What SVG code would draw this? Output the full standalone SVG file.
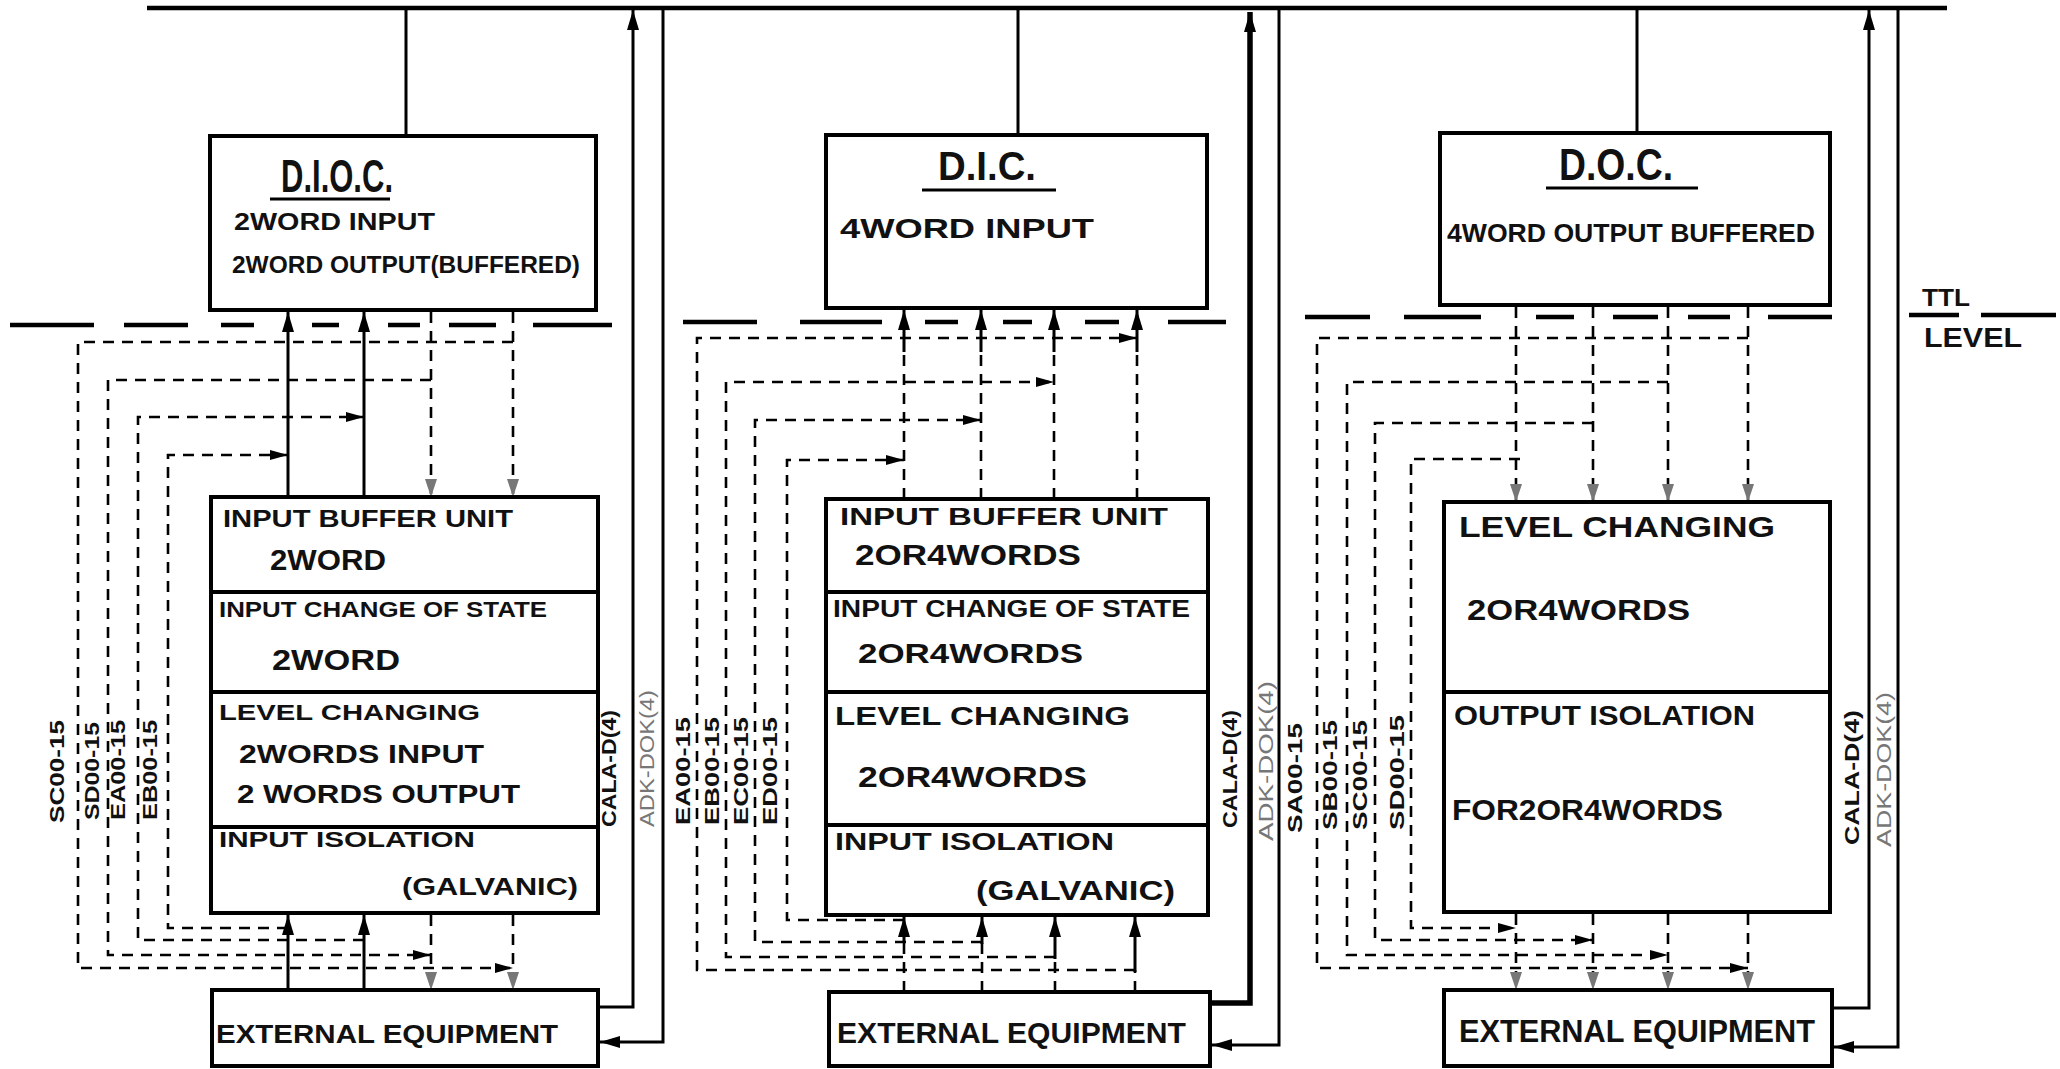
<svg xmlns="http://www.w3.org/2000/svg" width="2060" height="1069" viewBox="0 0 2060 1069">
<style>
.box{fill:none;stroke:#000;stroke-width:4}
.ln{fill:none;stroke:#000;stroke-width:3}
.thick{fill:none;stroke:#000;stroke-width:5.5}
.ds{fill:none;stroke:#000;stroke-width:2.6;stroke-dasharray:11 8}
.ttl{fill:none;stroke:#000;stroke-width:4.5}
.t{font-family:"Liberation Sans",Arial,sans-serif;fill:#111;font-weight:bold}
.lbl{font-size:20px}
.g{fill:#777;font-weight:normal}
</style>
<defs>
<marker id="ab" viewBox="0 0 20 12" refX="20" refY="6" markerWidth="20" markerHeight="12" orient="auto" markerUnits="userSpaceOnUse"><path d="M0,0 L20,6 L0,12 z" fill="#000"/></marker>
<marker id="ag" viewBox="0 0 18 12" refX="18" refY="6" markerWidth="18" markerHeight="12" orient="auto" markerUnits="userSpaceOnUse"><path d="M0,0 L18,6 L0,12 z" fill="#777"/></marker>
<marker id="ah" viewBox="0 0 18 12" refX="18" refY="6" markerWidth="18" markerHeight="12" orient="auto" markerUnits="userSpaceOnUse"><path d="M0,1 L18,6 L0,11 z" fill="#000"/></marker>
</defs>
<rect width="2060" height="1069" fill="#fff"/>

<g id="connectors">
  <!-- bus -->
  <path class="ttl" d="M147,8 H1947"/>
  <path class="ln" d="M406,8 V136 M1018,8 V135 M1637,8 V133"/>
  <!-- TTL level dashed separators -->
  <path class="ttl" d="M10,325 H94 M124,325 H188 M221,325 H254 M312,325 H339 M388,325 H420 M449,325 H496 M533,325 H612"/>
  <path class="ttl" d="M683,322 H757 M800,322 H882 M925,322 H958 M1003,322 H1032 M1085,322 H1119 M1168,322 H1226"/>
  <path class="ttl" d="M1305,317 H1370 M1404,317 H1481 M1536,317 H1574 M1613,317 H1658 M1688,317 H1730 M1768,317 H1832"/>
  <path class="ttl" d="M1909,315 H1959 M1981,315 H2056"/>

  <!-- DIOC column verticals -->
  <path class="ln" d="M288,497 V312" marker-end="url(#ab)"/>
  <path class="ln" d="M364,497 V312" marker-end="url(#ab)"/>
  <path class="ds" d="M431,312 V497" marker-end="url(#ag)"/>
  <path class="ds" d="M513,312 V497" marker-end="url(#ag)"/>
  <path class="ln" d="M288,990 V915" marker-end="url(#ab)"/>
  <path class="ln" d="M364,990 V915" marker-end="url(#ab)"/>
  <path class="ds" d="M431,915 V990" marker-end="url(#ag)"/>
  <path class="ds" d="M513,915 V990" marker-end="url(#ag)"/>
  <!-- DIOC L lines -->
  <path class="ds" d="M513,342 H78 V968 H513" marker-end="url(#ah)"/>
  <path class="ds" d="M431,380 H108 V955 H431" marker-end="url(#ah)"/>
  <path class="ds" d="M364,940 H138 V417 H364" marker-end="url(#ah)"/>
  <path class="ds" d="M288,928 H168 V455 H288" marker-end="url(#ah)"/>
  <!-- DIOC side lines -->
  <path class="ln" d="M598,1007 H633 V10" marker-end="url(#ab)"/>
  <path class="ln" stroke-width="2.5" d="M663,8 V1042 H600" marker-end="url(#ab)"/>

  <!-- DIC column verticals -->
  <path class="ds" d="M904,499 V350 M981,499 V350 M1054,499 V350 M1137,499 V350"/>
  <path class="ln" d="M904,352 V310" marker-end="url(#ab)"/>
  <path class="ln" d="M981,352 V310" marker-end="url(#ab)"/>
  <path class="ln" d="M1054,352 V310" marker-end="url(#ab)"/>
  <path class="ln" d="M1137,352 V310" marker-end="url(#ab)"/>
  <path class="ds" d="M904,992 V940 M982,992 V942 M1055,992 V957 M1135,992 V970"/>
  <path class="ln" d="M904,942 V917" marker-end="url(#ab)"/>
  <path class="ln" d="M982,944 V917" marker-end="url(#ab)"/>
  <path class="ln" d="M1055,959 V917" marker-end="url(#ab)"/>
  <path class="ln" d="M1135,972 V917" marker-end="url(#ab)"/>
  <!-- DIC L lines -->
  <path class="ds" d="M1135,970 H697 V338 H1137" marker-end="url(#ah)"/>
  <path class="ds" d="M1055,957 H726 V382 H1054" marker-end="url(#ah)"/>
  <path class="ds" d="M982,942 H755 V420 H981" marker-end="url(#ah)"/>
  <path class="ds" d="M904,920 H787 V460 H904" marker-end="url(#ah)"/>
  <!-- DIC side lines -->
  <path class="thick" d="M1210,1003 H1250 V12" marker-end="url(#ab)"/>
  <path class="ln" stroke-width="2.5" d="M1279,8 V1045 H1212" marker-end="url(#ab)"/>

  <!-- DOC column verticals -->
  <path class="ds" d="M1516,307 V502" marker-end="url(#ag)"/>
  <path class="ds" d="M1593,307 V502" marker-end="url(#ag)"/>
  <path class="ds" d="M1668,307 V502" marker-end="url(#ag)"/>
  <path class="ds" d="M1748,307 V502" marker-end="url(#ag)"/>
  <path class="ds" d="M1516,914 V990" marker-end="url(#ag)"/>
  <path class="ds" d="M1593,914 V990" marker-end="url(#ag)"/>
  <path class="ds" d="M1668,914 V990" marker-end="url(#ag)"/>
  <path class="ds" d="M1748,914 V990" marker-end="url(#ag)"/>
  <!-- DOC L lines -->
  <path class="ds" d="M1748,338 H1317 V968 H1748" marker-end="url(#ah)"/>
  <path class="ds" d="M1668,382 H1347 V955 H1668" marker-end="url(#ah)"/>
  <path class="ds" d="M1593,423 H1375 V940 H1593" marker-end="url(#ah)"/>
  <path class="ds" d="M1520,459 H1411 V928 H1516" marker-end="url(#ah)"/>
  <!-- DOC side lines -->
  <path class="ln" d="M1832,1008 H1869 V10" marker-end="url(#ab)"/>
  <path class="ln" stroke-width="2.5" d="M1898,8 V1047 H1834" marker-end="url(#ab)"/>

  <!-- signal labels -->
  <g class="t lbl">
    <text transform="translate(64,823) rotate(-90)" textLength="103" lengthAdjust="spacingAndGlyphs">SC00-15</text>
    <text transform="translate(99,820) rotate(-90)" textLength="98" lengthAdjust="spacingAndGlyphs">SD00-15</text>
    <text transform="translate(125,820) rotate(-90)" textLength="100" lengthAdjust="spacingAndGlyphs">EA00-15</text>
    <text transform="translate(157,820) rotate(-90)" textLength="100" lengthAdjust="spacingAndGlyphs">EB00-15</text>
    <text transform="translate(616,827) rotate(-90)" textLength="117" lengthAdjust="spacingAndGlyphs">CALA-D(4)</text>
    <text class="g" transform="translate(654,827) rotate(-90)" textLength="137" lengthAdjust="spacingAndGlyphs">ADK-DOK(4)</text>
    <text transform="translate(690,825) rotate(-90)" textLength="108" lengthAdjust="spacingAndGlyphs">EA00-15</text>
    <text transform="translate(719,825) rotate(-90)" textLength="108" lengthAdjust="spacingAndGlyphs">EB00-15</text>
    <text transform="translate(748,825) rotate(-90)" textLength="108" lengthAdjust="spacingAndGlyphs">EC00-15</text>
    <text transform="translate(777,825) rotate(-90)" textLength="108" lengthAdjust="spacingAndGlyphs">ED00-15</text>
    <text transform="translate(1237,828) rotate(-90)" textLength="118" lengthAdjust="spacingAndGlyphs">CALA-D(4)</text>
    <text class="g" transform="translate(1273,841) rotate(-90)" textLength="160" lengthAdjust="spacingAndGlyphs">ADK-DOK(4)</text>
    <text transform="translate(1302,833) rotate(-90)" textLength="110" lengthAdjust="spacingAndGlyphs">SA00-15</text>
    <text transform="translate(1337,830) rotate(-90)" textLength="110" lengthAdjust="spacingAndGlyphs">SB00-15</text>
    <text transform="translate(1367,830) rotate(-90)" textLength="110" lengthAdjust="spacingAndGlyphs">SC00-15</text>
    <text transform="translate(1404,830) rotate(-90)" textLength="115" lengthAdjust="spacingAndGlyphs">SD00-15</text>
    <text transform="translate(1859,845) rotate(-90)" textLength="135" lengthAdjust="spacingAndGlyphs">CALA-D(4)</text>
    <text class="g" transform="translate(1891,847) rotate(-90)" textLength="155" lengthAdjust="spacingAndGlyphs">ADK-DOK(4)</text>
  </g>
  <g id="ttl-label" class="t">
    <text x="1922" y="306" font-size="24" textLength="48" lengthAdjust="spacingAndGlyphs">TTL</text>
    <text x="1924" y="347" font-size="28" textLength="98" lengthAdjust="spacingAndGlyphs">LEVEL</text>
  </g>
</g>

<g id="dioc" class="t">
  <rect class="box" x="210" y="136" width="386" height="174"/>
  <text x="281" y="192" font-size="46" textLength="112" lengthAdjust="spacingAndGlyphs">D.I.O.C.</text>
  <path class="ln" d="M270,199 H390"/>
  <text x="234" y="230" font-size="24" textLength="201" lengthAdjust="spacingAndGlyphs">2WORD INPUT</text>
  <text x="232" y="273" font-size="24" textLength="348" lengthAdjust="spacingAndGlyphs">2WORD OUTPUT(BUFFERED)</text>
</g>
<g id="dioc-stack" class="t">
  <rect class="box" x="211" y="497" width="387" height="416"/>
  <path class="box" d="M211,592 H598 M211,692 H598 M211,827 H598"/>
  <text x="223" y="527" font-size="24" textLength="290" lengthAdjust="spacingAndGlyphs">INPUT BUFFER UNIT</text>
  <text x="270" y="570" font-size="30" textLength="116" lengthAdjust="spacingAndGlyphs">2WORD</text>
  <text x="219" y="617" font-size="22" textLength="328" lengthAdjust="spacingAndGlyphs">INPUT CHANGE OF STATE</text>
  <text x="272" y="670" font-size="30" textLength="128" lengthAdjust="spacingAndGlyphs">2WORD</text>
  <text x="219" y="720" font-size="22" textLength="261" lengthAdjust="spacingAndGlyphs">LEVEL CHANGING</text>
  <text x="239" y="763" font-size="25" textLength="245" lengthAdjust="spacingAndGlyphs">2WORDS INPUT</text>
  <text x="237" y="803" font-size="25" textLength="283" lengthAdjust="spacingAndGlyphs">2 WORDS OUTPUT</text>
  <text x="219" y="847" font-size="22" textLength="256" lengthAdjust="spacingAndGlyphs">INPUT ISOLATION</text>
  <text x="402" y="895" font-size="24" textLength="176" lengthAdjust="spacingAndGlyphs">(GALVANIC)</text>
</g>
<g id="dioc-ext" class="t">
  <rect class="box" x="212" y="990" width="386" height="76"/>
  <text x="216" y="1043" font-size="26" textLength="342" lengthAdjust="spacingAndGlyphs">EXTERNAL EQUIPMENT</text>
</g>

<g id="dic" class="t">
  <rect class="box" x="826" y="135" width="381" height="173"/>
  <text x="938" y="180" font-size="40" textLength="98" lengthAdjust="spacingAndGlyphs">D.I.C.</text>
  <path class="ln" d="M922,190 H1056"/>
  <text x="840" y="238" font-size="28" textLength="254" lengthAdjust="spacingAndGlyphs">4WORD INPUT</text>
</g>
<g id="dic-stack" class="t">
  <rect class="box" x="826" y="499" width="382" height="416"/>
  <path class="box" d="M826,592 H1208 M826,692 H1208 M826,825 H1208"/>
  <text x="840" y="525" font-size="24" textLength="328" lengthAdjust="spacingAndGlyphs">INPUT BUFFER UNIT</text>
  <text x="855" y="565" font-size="30" textLength="226" lengthAdjust="spacingAndGlyphs">2OR4WORDS</text>
  <text x="833" y="617" font-size="24" textLength="357" lengthAdjust="spacingAndGlyphs">INPUT CHANGE OF STATE</text>
  <text x="858" y="663" font-size="28" textLength="225" lengthAdjust="spacingAndGlyphs">2OR4WORDS</text>
  <text x="835" y="725" font-size="25" textLength="295" lengthAdjust="spacingAndGlyphs">LEVEL CHANGING</text>
  <text x="858" y="787" font-size="30" textLength="229" lengthAdjust="spacingAndGlyphs">2OR4WORDS</text>
  <text x="835" y="850" font-size="23" textLength="279" lengthAdjust="spacingAndGlyphs">INPUT ISOLATION</text>
  <text x="976" y="900" font-size="28" textLength="199" lengthAdjust="spacingAndGlyphs">(GALVANIC)</text>
</g>
<g id="dic-ext" class="t">
  <rect class="box" x="829" y="992" width="381" height="74"/>
  <text x="837" y="1043" font-size="30" textLength="349" lengthAdjust="spacingAndGlyphs">EXTERNAL EQUIPMENT</text>
</g>

<g id="doc" class="t">
  <rect class="box" x="1440" y="133" width="390" height="172"/>
  <text x="1559" y="180" font-size="44" textLength="114" lengthAdjust="spacingAndGlyphs">D.O.C.</text>
  <path class="ln" d="M1546,188 H1698"/>
  <text x="1447" y="242" font-size="26" textLength="368" lengthAdjust="spacingAndGlyphs">4WORD OUTPUT BUFFERED</text>
</g>
<g id="doc-stack" class="t">
  <rect class="box" x="1444" y="502" width="386" height="410"/>
  <path class="box" d="M1444,692 H1830"/>
  <text x="1459" y="537" font-size="30" textLength="316" lengthAdjust="spacingAndGlyphs">LEVEL CHANGING</text>
  <text x="1467" y="620" font-size="30" textLength="223" lengthAdjust="spacingAndGlyphs">2OR4WORDS</text>
  <text x="1454" y="725" font-size="27" textLength="301" lengthAdjust="spacingAndGlyphs">OUTPUT ISOLATION</text>
  <text x="1452" y="820" font-size="30" textLength="271" lengthAdjust="spacingAndGlyphs">FOR2OR4WORDS</text>
</g>
<g id="doc-ext" class="t">
  <rect class="box" x="1444" y="990" width="388" height="76"/>
  <text x="1459" y="1042" font-size="32" textLength="356" lengthAdjust="spacingAndGlyphs">EXTERNAL EQUIPMENT</text>
</g>
</svg>
